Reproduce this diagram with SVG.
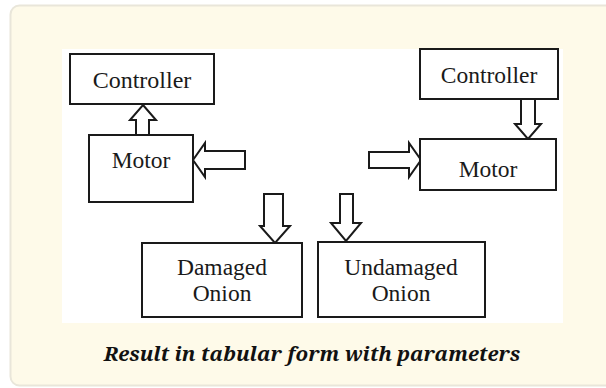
<svg xmlns="http://www.w3.org/2000/svg" width="606" height="388" viewBox="0 0 606 388">
  <style>
    .box { fill: #ffffff; stroke: #1a1a1a; stroke-width: 2; }
    .arrow { fill: #ffffff; stroke: #1a1a1a; stroke-width: 2; stroke-linejoin: miter; }
    .label { font-family: "Liberation Serif", "Times New Roman", serif; font-size: 23.5px; fill: #1a1a1a; text-anchor: middle; }
    .caption { font-family: "Noto Serif", "DejaVu Serif", serif; font-weight: bold; font-style: italic; font-size: 20.5px; fill: #111111; text-anchor: middle; }
  </style>

  <!-- card background -->
  <rect x="10.5" y="5.5" width="620" height="380" rx="9" fill="#fefae9" stroke="#e9e6da" stroke-width="2"/>
  <!-- figure panel -->
  <rect x="62" y="49" width="501" height="274" fill="#ffffff"/>

  <g id="connectors">
    <!-- motor to controller (left) -->
    <polygon class="arrow" points="143,105 156,120 149,120 149,135 136,135 136,120 130,120"/>
    <!-- input into left motor -->
    <polygon class="arrow" points="193,160 205,143 205,151 245,151 245,169 205,169 205,177"/>
    <!-- controller to motor (right) -->
    <polygon class="arrow" points="521,99 535,99 535,124 541,124 528,139 515,124 521,124"/>
    <!-- input into right motor -->
    <polygon class="arrow" points="369,152 409,152 409,143 421,160 409,177 409,168 369,168"/>
    <!-- to damaged onion -->
    <polygon class="arrow" points="264,194 283,194 283,226 290,226 275,243 260,226 264,226"/>
    <!-- to undamaged onion -->
    <polygon class="arrow" points="340,194 353,194 353,223 361,223 346,241 331,223 340,223"/>
  </g>

  <g id="controller-left">
    <rect class="box" x="70" y="54" width="144" height="50"/>
    <text class="label" x="142" y="88" style="font-size:24px">Controller</text>
  </g>

  <g id="motor-left">
    <rect class="box" x="89" y="135" width="104" height="67"/>
    <text class="label" x="141" y="168">Motor</text>
  </g>

  <g id="controller-right">
    <rect class="box" x="420" y="49" width="138" height="50"/>
    <text class="label" x="489" y="83">Controller</text>
  </g>

  <g id="motor-right">
    <rect class="box" x="420" y="139" width="136" height="51"/>
    <text class="label" x="488" y="177">Motor</text>
  </g>

  <g id="damaged-onion">
    <rect class="box" x="142" y="243" width="160" height="74"/>
    <text class="label" x="222" y="275">Damaged</text>
    <text class="label" x="222" y="301">Onion</text>
  </g>

  <g id="undamaged-onion">
    <rect class="box" x="318" y="242" width="167" height="75"/>
    <text class="label" x="401" y="275">Undamaged</text>
    <text class="label" x="401" y="301">Onion</text>
  </g>

  <text class="caption" x="312" y="361">Result in tabular form with parameters</text>
</svg>
